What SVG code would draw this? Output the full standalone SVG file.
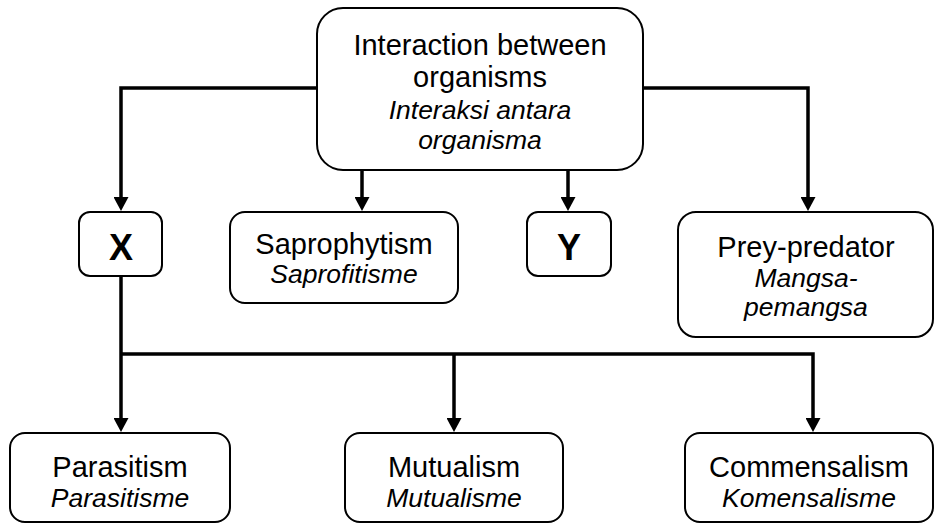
<svg xmlns="http://www.w3.org/2000/svg" width="935" height="525" viewBox="0 0 935 525">
<style>
.box{fill:#fff;stroke:#000;stroke-width:2}
.t{font-family:"Liberation Sans",Arial,sans-serif;font-size:29px;fill:#000;text-anchor:middle}
.i{font-family:"Liberation Sans",Arial,sans-serif;font-size:26.5px;font-style:italic;fill:#000;text-anchor:middle}
.b{font-family:"Liberation Sans",Arial,sans-serif;font-size:36px;font-weight:bold;fill:#000;text-anchor:middle}
.c{fill:none;stroke:#000;stroke-width:3.5}
</style>
<defs>
<marker id="ah" markerUnits="userSpaceOnUse" markerWidth="14" markerHeight="15" viewBox="0 0 14 15" refX="1" refY="7.5" orient="auto">
<path d="M0,0 L14,7.5 L0,15 z" fill="#000"/>
</marker>
</defs>
<rect width="935" height="525" fill="#fff"/>
<g id="connectors">
<path class="c" d="M317,88 H121 V198" marker-end="url(#ah)"/>
<path class="c" d="M643,88 H808 V198" marker-end="url(#ah)"/>
<path class="c" d="M362,170 V198" marker-end="url(#ah)"/>
<path class="c" d="M568,170 V198" marker-end="url(#ah)"/>
<path class="c" d="M121,276 V419" marker-end="url(#ah)"/>
<path class="c" d="M121,354 H813 V419" marker-end="url(#ah)"/>
<path class="c" d="M454,354 V419" marker-end="url(#ah)"/>
</g>
<g id="root">
<rect class="box" x="317" y="8" width="326" height="162" rx="26"/>
<text class="t" x="480" y="55">Interaction between</text>
<text class="t" x="480" y="87">organisms</text>
<text class="i" x="480" y="119">Interaksi antara</text>
<text class="i" x="480" y="149">organisma</text>
</g>
<g id="X">
<rect class="box" x="79" y="212" width="83" height="64" rx="11"/>
<text class="b" x="121" y="260">X</text>
</g>
<g id="saprophytism">
<rect class="box" x="230" y="212" width="228" height="91" rx="15"/>
<text class="t" x="344" y="254">Saprophytism</text>
<text class="i" x="344" y="283">Saprofitisme</text>
</g>
<g id="Y">
<rect class="box" x="527" y="212" width="84" height="64" rx="11"/>
<text class="b" x="569" y="260">Y</text>
</g>
<g id="prey-predator">
<rect class="box" x="678" y="212" width="255" height="125" rx="18"/>
<text class="t" x="806" y="257">Prey-predator</text>
<text class="i" x="806" y="287">Mangsa-</text>
<text class="i" x="806" y="316">pemangsa</text>
</g>
<g id="parasitism">
<rect class="box" x="10" y="433" width="220" height="89" rx="15"/>
<text class="t" x="120" y="477">Parasitism</text>
<text class="i" x="120" y="507">Parasitisme</text>
</g>
<g id="mutualism">
<rect class="box" x="345" y="433" width="218" height="89" rx="15"/>
<text class="t" x="454" y="477">Mutualism</text>
<text class="i" x="454" y="507">Mutualisme</text>
</g>
<g id="commensalism">
<rect class="box" x="685" y="433" width="248" height="89" rx="15"/>
<text class="t" x="809" y="477">Commensalism</text>
<text class="i" x="809" y="507">Komensalisme</text>
</g>
</svg>
